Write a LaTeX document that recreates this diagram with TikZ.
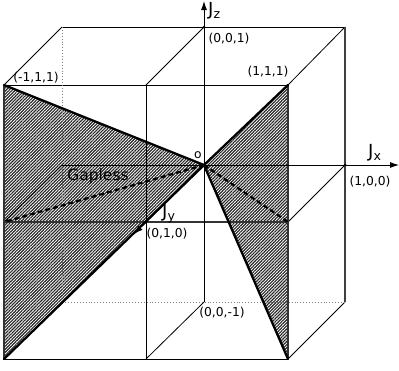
\documentclass[tikz,border=0pt]{standalone}
\usepackage{fontspec}
\setmainfont{DejaVu Sans}
\usetikzlibrary{patterns.meta,arrows.meta}
\begin{document}
\begin{tikzpicture}[x=1pt,y=-1pt,
  edge/.style={line width=0.8pt},
  hidden/.style={line width=0.9pt, gray, dotted},
  bold/.style={line width=2.3pt, line cap=round, line join=round},
  hatch/.style={pattern={Lines[angle=45,distance=2.2pt,line width=1.15pt]}, pattern color=black!85},
  dashline/.style={line width=2.2pt, dash pattern=on 5pt off 3pt},
  axis/.style={line width=0.9pt, -{Latex[length=9pt,width=6pt]}},
  lab/.style={font=\fontsize{12.3}{14}\selectfont, inner sep=0pt},
  jlab/.style={font=\fontsize{18}{20}\selectfont, inner sep=0pt, anchor=west},
  vdot/.style={circle, fill, inner sep=0pt, minimum size=3pt}
]
\useasboundingbox (0,0) rectangle (399,370);
\coordinate (O) at (204,165);
\coordinate (A) at (4,85);
\coordinate (B) at (288,85);
\coordinate (C) at (4,359);
\coordinate (D) at (288,359);
\coordinate (E) at (62,27);
\coordinate (F) at (345,27);
\coordinate (G) at (62,302);
\coordinate (H) at (345,302);
\coordinate (Zt) at (204,27);
\coordinate (Zb) at (204,302);
\coordinate (Xp) at (345,165);
\coordinate (Xm) at (62,165);
\coordinate (Yp) at (146,222);
\coordinate (FL) at (4,222);
\coordinate (FR) at (288,222);
\coordinate (FT) at (146,85);
\coordinate (FB) at (146,359);
\coordinate (Zend) at (204,1);
\coordinate (Xend) at (399,165);
\coordinate (Yend) at (134,234);

\fill[hatch] (A) -- (O) -- (C) -- cycle;
\fill[hatch] (B) -- (O) -- (D) -- cycle;

\draw[edge] (E) -- (F);
\draw[edge] (A) -- (B);
\draw[edge] (A) -- (E);
\draw[edge] (FT) -- (Zt);
\draw[edge] (B) -- (F);
\draw[edge] (FT) -- (FB);
\draw[edge] (C) -- (D);
\draw[edge] (FB) -- (Zb);
\draw[edge] (D) -- (H);
\draw[edge] (FL) -- (Xm);
\draw[edge] (FR) -- (Xp);
\draw[edge] (Xm) -- (O);
\draw[hidden] (E) -- (G) -- (H);
\draw[black!75, line width=1.3pt] (F) -- (H);
\draw[black!80, line width=1.4pt] (B) -- (D);
\draw[black!80, line width=2pt] (A) -- (C);
\draw[black!80, line width=1.8pt] (FL) -- (FR);

\draw[axis] (Zb) -- (Zend);
\draw[axis] (O) -- (Xend);
\draw[axis] (O) -- (Yend);

\draw[bold] (A) -- (O) -- (C);
\draw[bold] (B) -- (O) -- (D);
\draw[dashline] (O) -- (FL);
\draw[dashline] (O) -- (FR);

\node[vdot] (dz) at (Zt) {};
\node[vdot] (dx) at (Xp) {};
\node[vdot] (dy) at (Yp) {};

\node[jlab] (jz) at (208,11) {J\textsubscript{z}};
\node[jlab] (jx) at (368,153) {J\textsubscript{x}};
\node[jlab] (jy) at (162,214) {J\textsubscript{y}};
\node[lab] (l001) at (229,39) {(0,0,1)};
\node[lab] (l111) at (268,72) {(1,1,1)};
\node[lab] (lm111) at (36,78) {(-1,1,1)};
\node[lab] (lo) at (198,155) {o};
\node[lab] (l100) at (370,182) {(1,0,0)};
\node[lab] (l010) at (167,234) {(0,1,0)};
\node[lab] (l00m1) at (222,313) {(0,0,-1)};
\node[font=\fontsize{15.5}{18}\selectfont, inner sep=0pt] (gap) at (98,176) {Gapless};
\end{tikzpicture}
\end{document}
